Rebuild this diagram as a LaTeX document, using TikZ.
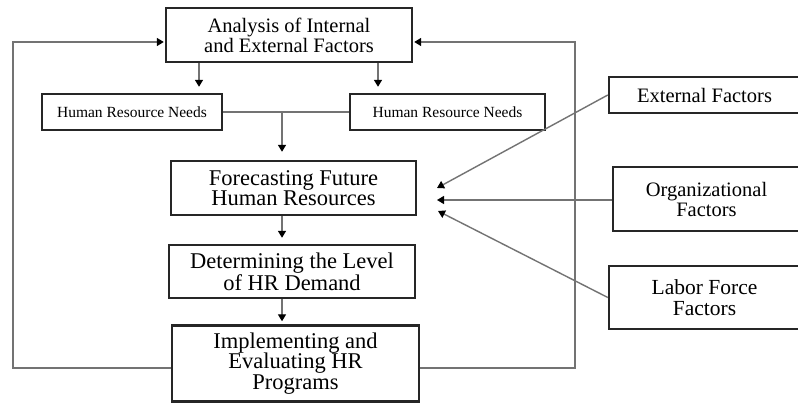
\documentclass[tikz,border=0pt]{standalone}
\usepackage{fontspec}
\setmainfont{Liberation Serif}
\usetikzlibrary{arrows.meta}
\begin{document}
\begin{tikzpicture}[x=1pt,y=-1pt,
  box/.style={draw=black!85,line width=2.4pt,fill=white,align=center,inner sep=0pt,anchor=center},
  conn/.style={draw=black!55,line width=1.4pt},
  arr/.style={conn,-{Triangle[length=7pt,width=8pt,fill=black,color=black]}},
  big/.style={font=\fontsize{22.5}{20.5}\selectfont},
  mid/.style={font=\fontsize{20.5}{20}\selectfont},
  small/.style={font=\fontsize{15.5}{16}\selectfont}]
\useasboundingbox[fill=white] (0,0) rectangle (798,403);
% main column
\node[box,mid,minimum width=246pt,minimum height=54pt] (top) at (289,35) {Analysis of Internal\\and External Factors};
\node[box,small,minimum width=180pt,minimum height=36pt] (hrl) at (132,112) {Human Resource Needs};
\node[box,small,minimum width=195pt,minimum height=36pt] (hrr) at (447.5,112) {Human Resource Needs};
\node[box,big,minimum width=245pt,minimum height=54pt] (fore) at (293.5,188) {Forecasting Future\\Human Resources};
\node[box,big,minimum width=246pt,minimum height=53pt] (det) at (292,271.5) {Determining the Level\\of HR Demand};
\node[box,big,minimum width=247pt,minimum height=76pt] (impl) at (295.5,363.5) {Implementing and\\Evaluating HR\\Programs};
% right factors
\node[box,mid,minimum width=191pt,minimum height=36pt] (ext) at (704.5,95) {External Factors};
\node[box,mid,minimum width=187pt,minimum height=64pt] (org) at (706.5,199) {Organizational\\Factors};
\node[box,font=\fontsize{21.5}{21.5}\selectfont,minimum width=191pt,minimum height=63pt] (lab) at (704.5,297.5) {Labor Force\\Factors};
% helper coordinates
\coordinate (a1) at (199,0);
\coordinate (a2) at (378,0);
\coordinate (j) at (282,112);
\coordinate (lx) at (13,0);
\coordinate (rx) at (575,0);
\coordinate (fy) at (0,368);
\coordinate (ty) at (0,42);
\coordinate (t1) at (437,188);
\coordinate (t2) at (437,200);
\coordinate (t3) at (438,211);
% connectors
\draw[arr,shorten >=6pt] (a1 |- top.south) -- (a1 |- hrl.north);
\draw[arr,shorten >=6pt] (a2 |- top.south) -- (a2 |- hrr.north);
\draw[conn] (hrl.east) -- (hrr.west);
\draw[arr,shorten >=8pt] (j) -- (j |- fore.north);
\draw[arr,shorten >=6pt] (j |- fore.south) -- (j |- det.north);
\draw[arr,shorten >=3pt] (j |- det.south) -- (j |- impl.north);
\draw[arr,shorten >=1pt] (impl.west |- fy) -- (lx |- fy) -- (lx |- ty) -- (top.west |- ty);
\draw[arr,shorten >=1pt] (impl.east |- fy) -- (rx |- fy) -- (rx |- ty) -- (top.east |- ty);
\draw[arr] (ext.west) -- (t1);
\draw[arr] (org.west |- t2) -- (t2);
\draw[arr] (lab.west) -- (t3);
\end{tikzpicture}
\end{document}
